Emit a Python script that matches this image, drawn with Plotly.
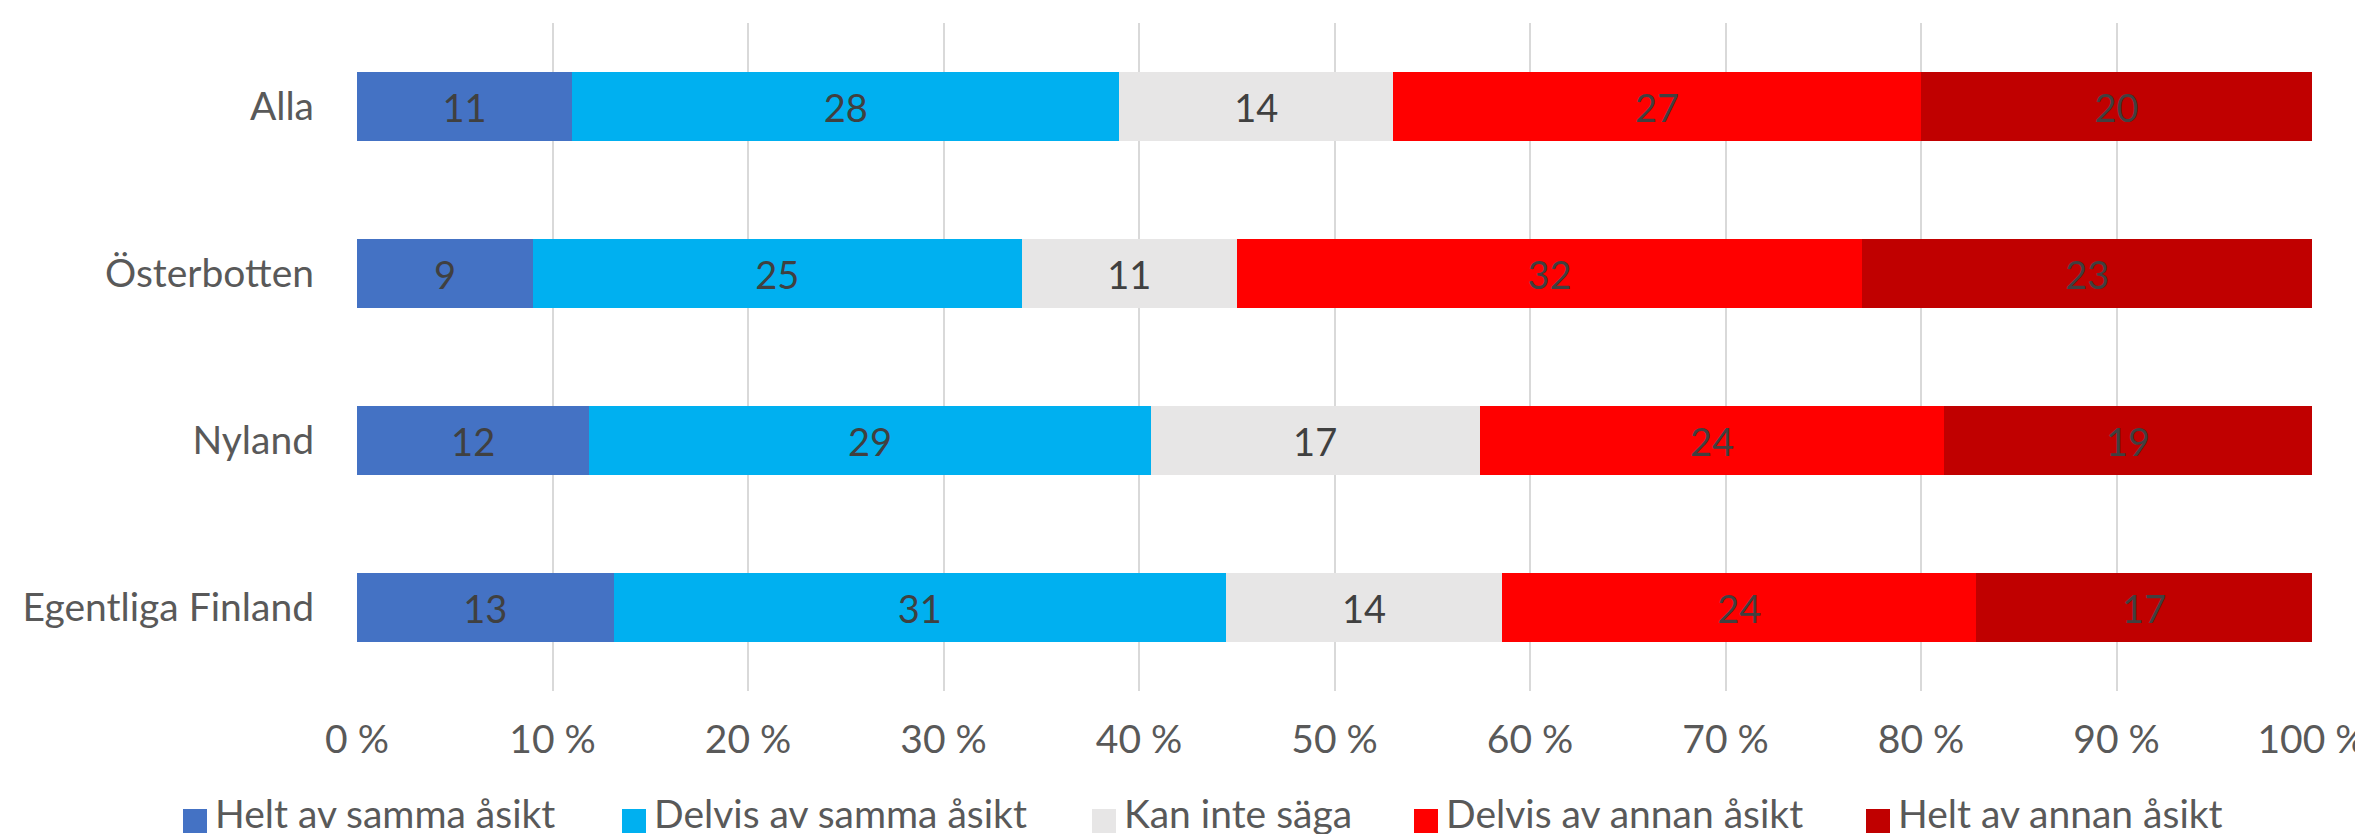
import plotly.graph_objects as go

categories = ["Alla", "Österbotten", "Nyland", "Egentliga Finland"]
series_names = ["Helt av samma åsikt", "Delvis av samma åsikt", "Kan inte säga",
                "Delvis av annan åsikt", "Helt av annan åsikt"]
helt_samma = [11, 9, 12, 13]
delvis_samma = [28, 25, 29, 31]
kan_inte = [14, 11, 17, 14]
delvis_annan = [27, 32, 24, 24]
helt_annan = [20, 23, 19, 17]
colors = ["#4472C4", "#00B0F0", "#E7E6E6", "#FF0000", "#C00000"]
tick_vals = [0, 10, 20, 30, 40, 50, 60, 70, 80, 90, 100]
tick_text = [f"{v} %" for v in tick_vals]

FONT = "Lato"
W, H = 2363, 834
ML, MR, MT, MB = 349, 59, 15, 151
PW, PH = W - ML - MR, H - MT - MB
series = [helt_samma, delvis_samma, kan_inte, delvis_annan, helt_annan]
legend_left_px = [175, 614, 1084, 1406, 1858]  # legend square left edges (layout)
SQ = 24
LEG_CY = 813


def px_to_paper_x(px):
    return (px - ML) / PW


def px_to_paper_y(py):
    return (H - MB - py) / PH


fig = go.Figure()
for name, vals, col in zip(series_names, series, colors):
    fig.add_trace(go.Bar(
        y=categories, x=vals, name=name, orientation="h",
        marker=dict(color=col, line=dict(width=0)),
        text=[str(v) for v in vals], textposition="inside",
        insidetextanchor="middle", textangle=0,
        textfont=dict(family=FONT, size=38, color="#404040"),
        constraintext="none", showlegend=False,
    ))

legend_layouts = {}
shapes = []
for i, (name, col) in enumerate(zip(series_names, colors)):
    lid = "legend" if i == 0 else f"legend{i+1}"
    fig.add_trace(go.Scatter(
        x=[None], y=[None], mode="markers", name=name,
        marker=dict(symbol="square", size=12, color="rgba(0,0,0,0)"),
        showlegend=True, legend=lid,
    ))
    legend_layouts[lid] = dict(
        orientation="h", xref="container", yref="container",
        x=(legend_left_px[i] - 8) / W, xanchor="left",
        y=1 - 805 / H, yanchor="middle",
        font=dict(family=FONT, size=39, color="#595959"),
        itemwidth=30, itemsizing="trace", bgcolor="rgba(0,0,0,0)",
    )
    shapes.append(dict(
        type="rect", xref="paper", yref="paper",
        x0=px_to_paper_x(legend_left_px[i]), x1=px_to_paper_x(legend_left_px[i] + SQ),
        y0=px_to_paper_y(LEG_CY + SQ / 2), y1=px_to_paper_y(LEG_CY - SQ / 2),
        fillcolor=col, line=dict(width=0), layer="above",
    ))

fig.update_layout(
    barmode="stack", barnorm="percent", bargap=0.59,
    width=W, height=H,
    margin=dict(l=ML, r=MR, t=MT, b=MB, autoexpand=False),
    plot_bgcolor="white", paper_bgcolor="white",
    font=dict(family=FONT, size=39, color="#595959"),
    showlegend=True,
    shapes=shapes,
    xaxis=dict(range=[0, 100], tickvals=tick_vals, ticktext=tick_text,
               showgrid=True, gridcolor="#D9D9D9", gridwidth=2,
               zeroline=False, showline=False, ticks="",
               ticklabelstandoff=22,
               tickfont=dict(family=FONT, size=39, color="#595959")),
    yaxis=dict(categoryorder="array", categoryarray=categories,
               autorange="reversed", showgrid=False, ticks="",
               ticklabelstandoff=42,
               tickfont=dict(family=FONT, size=39, color="#595959")),
    **legend_layouts,
)

fig.write_html("out.html")
